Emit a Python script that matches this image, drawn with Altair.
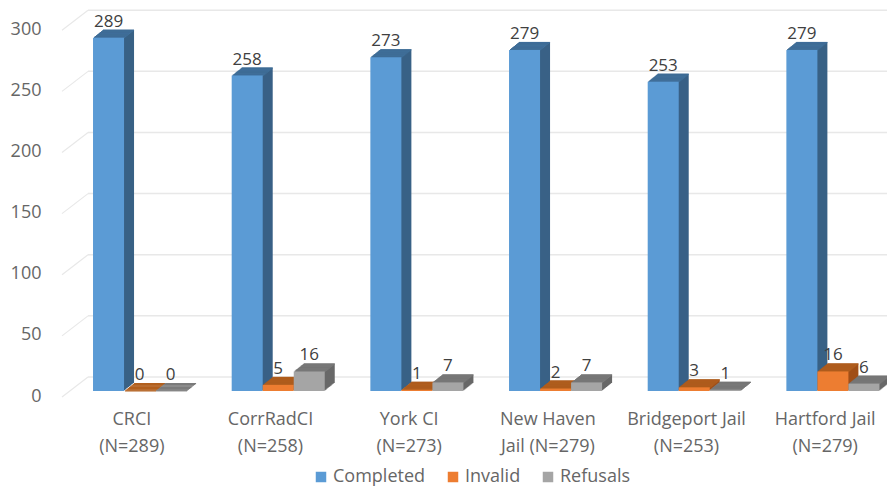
import altair as alt
import pandas as pd

categories = ["CRCI|(N=289)", "CorrRadCI|(N=258)", "York CI|(N=273)",
              "New Haven|Jail (N=279)", "Bridgeport Jail|(N=253)", "Hartford Jail|(N=279)"]
series = ["Completed", "Invalid", "Refusals"]
completed = [289, 258, 273, 279, 253, 279]
invalid = [0, 5, 1, 2, 3, 16]
refusals = [0, 16, 7, 7, 1, 6]
y_ticks = [0, 50, 100, 150, 200, 250, 300]
front = ["#5b9bd5", "#ed7d31", "#a5a5a5"]
side = ["#396186", "#a04f18", "#686868"]
top = ["#41719c", "#b2601f", "#7b7b7b"]

FONT = "Open Sans"
TXT = "#666666"
GRID = "#e8e8e8"
W, H = 825, 379
DEPTH = 10
SLOT = 0.2237
XMAX = 825 / 138.67

rows = []
for si, (s, vals) in enumerate(zip(series, [completed, invalid, refusals])):
    for ci, v in enumerate(vals):
        x0 = ci + (1 + si) * SLOT
        rows.append({"x0": x0, "x1": x0 + SLOT, "xc": x0 + SLOT / 2, "series": s, "value": v, "zero": 0})
df = pd.DataFrame(rows)
grid = pd.DataFrame({"v": y_ticks})

cat_js = "[" + ",".join("'" + c + "'" for c in categories) + "]"
xscale = alt.Scale(domain=[0, XMAX], nice=False, zero=False)
xaxis = alt.Axis(values=[i + 0.5 for i in range(6)], domain=False, ticks=False, grid=False, labelAngle=0,
                 labelExpr="split(" + cat_js + "[floor(datum.value)],'|')", labelFont=FONT,
                 labelFontSize=18, labelColor=TXT, labelPadding=19,
                 labelLineHeight=27, labelAlign="center", labelFlush=False, labelOverlap=False)
xenc = alt.X("x0:Q", scale=xscale, title=None, axis=xaxis)
x2enc = alt.X2("x1:Q")
yscale = alt.Scale(domain=[0, 310], nice=False)
yaxis = alt.Axis(values=y_ticks, domain=False, ticks=False, grid=False,
                 labelFont=FONT, labelFontSize=18, labelColor=TXT,
                 labelPadding=21, labelOffset=5)
yenc = alt.Y("value:Q", scale=yscale, title=None, axis=yaxis)

layers = [
    alt.Chart(grid).mark_rule(color=GRID, strokeWidth=1.5, yOffset=-14).encode(
        y=alt.Y("v:Q", scale=yscale, title=None, axis=yaxis),
        x=alt.value(26), x2=alt.value(W + 2)),
    alt.Chart(grid).mark_rule(color=GRID, strokeWidth=1.2, yOffset=6, y2Offset=-14).encode(
        y=alt.Y("v:Q", scale=yscale, title=None, axis=yaxis),
        y2=alt.Y2("v:Q"), x=alt.value(0), x2=alt.value(26)),
]

base = alt.Chart(df)
for i, s in enumerate(series):
    sub = base.transform_filter(alt.datum.series == s)
    for k in range(DEPTH, 0, -1):
        dy = -0.8 * k
        layers.append(sub.mark_rect(color=side[i], xOffset=k, x2Offset=k, yOffset=dy, y2Offset=dy).encode(
            x=xenc, x2=x2enc, y=yenc, y2=alt.Y2("zero:Q")))
        layers.append(sub.mark_rect(color=top[i], xOffset=k, x2Offset=k, yOffset=dy, y2Offset=dy + 1.2).encode(
            x=xenc, x2=x2enc, y=yenc, y2=alt.Y2("value:Q")))
    layers.append(sub.mark_rect().encode(
        x=xenc, x2=x2enc, y=yenc, y2=alt.Y2("zero:Q"),
        color=alt.Color("series:N", sort=series,
                        scale=alt.Scale(domain=series, range=front),
                        legend=alt.Legend(title=None, orient="none", legendX=250, legendY=456,
                                          direction="horizontal", symbolType="square",
                                          symbolSize=110, symbolStrokeWidth=0, labelFont=FONT,
                                          labelFontSize=18, labelColor=TXT, columnPadding=18,
                                          labelOffset=3))))

for i, s in enumerate(series):
    layers.append(base.transform_filter(alt.datum.series == s).mark_text(
        font=FONT, fontSize=17, color="#404040", dy=-16, baseline="middle").encode(
        x=alt.X("xc:Q", scale=xscale, title=None, axis=xaxis), y=yenc, text=alt.Text("value:Q")))

chart = alt.layer(*layers).properties(
    width=W, height=H, autosize="none",
    padding={"left": 54, "top": 4, "right": 0, "bottom": 95},
).configure_view(stroke=None)

chart.save("out.html", embed_options={"renderer": "svg", "actions": False})
